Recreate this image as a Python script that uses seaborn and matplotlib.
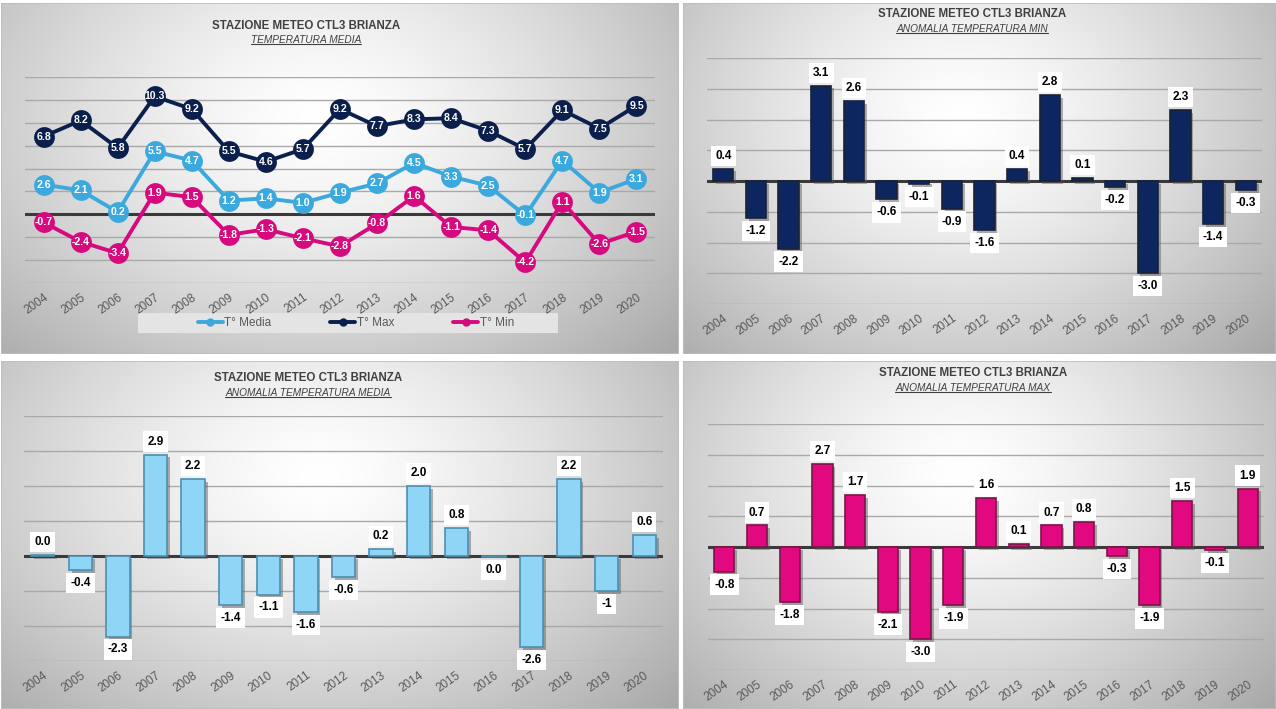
import numpy as np
import pandas as pd
import seaborn as sns
import matplotlib.pyplot as plt
import matplotlib.patheffects as pe
from matplotlib.lines import Line2D
from matplotlib.patches import Rectangle

sns.set_style('white')
plt.rcParams['font.family'] = ['Liberation Sans Narrow', 'Liberation Sans', 'DejaVu Sans']

anni = [str(a) for a in range(2004, 2021)]

t_media = [2.6, 2.1, 0.2, 5.5, 4.7, 1.2, 1.4, 1.0, 1.9, 2.7, 4.5, 3.3, 2.5, -0.1, 4.7, 1.9, 3.1]
t_max = [6.8, 8.2, 5.8, 10.3, 9.2, 5.5, 4.6, 5.7, 9.2, 7.7, 8.3, 8.4, 7.3, 5.7, 9.1, 7.5, 9.5]
t_min = [-0.7, -2.4, -3.4, 1.9, 1.5, -1.8, -1.3, -2.1, -2.8, -0.8, 1.6, -1.1, -1.4, -4.2, 1.1, -2.6, -1.5]

anom_min = [0.4, -1.2, -2.2, 3.1, 2.6, -0.6, -0.1, -0.9, -1.6, 0.4, 2.8, 0.1, -0.2, -3.0, 2.3, -1.4, -0.3]
anom_media = [0.02, -0.4, -2.3, 2.9, 2.2, -1.4, -1.1, -1.6, -0.6, 0.2, 2.0, 0.8, -0.02, -2.6, 2.2, -1.0, 0.6]
anom_media_lbl = ['0.0', '-0.4', '-2.3', '2.9', '2.2', '-1.4', '-1.1', '-1.6', '-0.6', '0.2', '2.0', '0.8',
                  '0.0', '-2.6', '2.2', '-1', '0.6']
anom_max = [-0.8, 0.7, -1.8, 2.7, 1.7, -2.1, -3.0, -1.9, 1.6, 0.1, 0.7, 0.8, -0.3, -1.9, 1.5, -0.1, 1.9]

W, H = 1276, 709
C_MEDIA = '#3BA9DE'
C_MAX = '#0B1F4D'
C_MIN = '#D60A7E'
TXT = '#404040'

fig = plt.figure(figsize=(W / 100, H / 100), dpi=100)
fig.patch.set_facecolor('white')


def frac_rect(x0, y0, x1, y1):
    return [x0 / W, 1 - y1 / H, (x1 - x0) / W, (y1 - y0) / H]


def panel_bg(x0, y0, x1, y1):
    bg = fig.add_axes(frac_rect(x0, y0, x1, y1))
    bg.set_axis_off()
    yy, xx = np.mgrid[0:1:200j, 0:1:300j]
    d = np.sqrt(((xx - 0.47) / 0.62) ** 2 + ((yy - 0.33) / 0.85) ** 2)
    v = 1 - 0.28 * np.clip(d, 0, 1.3) ** 1.4
    img = np.dstack([v, v, v])
    bg.imshow(img, extent=(0, 1, 0, 1), origin='upper', aspect='auto', interpolation='bilinear')
    bg.add_patch(Rectangle((0, 0), 1, 1, transform=bg.transAxes, fill=False,
                           edgecolor='#bdbdbd', lw=1.2))
    bg.set_xlim(0, 1)
    bg.set_ylim(0, 1)
    return bg


titles = []


def titoli(cx, ty, sy, sub):
    fig.text(cx / W, 1 - ty / H, 'STAZIONE METEO CTL3 BRIANZA', ha='center', va='center',
             fontsize=8.3, fontweight='bold', color=TXT)
    t = fig.text(cx / W, 1 - sy / H, sub, ha='center', va='center', fontsize=7.3,
                 fontstyle='italic', color=TXT)
    titles.append(t)


def style_axes(ax, lo, hi, step):
    ax.set_facecolor('none')
    for s in ax.spines.values():
        s.set_visible(False)
    ax.set_ylim(lo, hi)
    ax.set_yticks(np.arange(lo, hi + 0.01, step))
    ax.set_yticklabels([])
    ax.grid(axis='y', color='#a9a9a9', lw=1)
    ax.grid(axis='x', visible=False)
    ax.axhline(0, color='#3a3a3a', lw=2.2, zorder=2)
    ax.set_xlim(-0.5, 16.5)
    ax.set_xlabel('')
    ax.set_ylabel('')
    ax.tick_params(axis='both', length=0)
    ax.tick_params(axis='x', pad=6)
    for lab in ax.get_xticklabels():
        lab.set_rotation(35)
        lab.set_ha('right')
        lab.set_rotation_mode('anchor')
        lab.set_fontsize(8.5)
        lab.set_color('#595959')


def bar_panel(rect, vals, labels, color, edge, lo, hi):
    ax = fig.add_axes(rect)
    sns.barplot(x=anni, y=vals, color=color, width=0.62, saturation=1, ax=ax,
                edgecolor=edge, linewidth=1.2, zorder=3)
    style_axes(ax, lo, hi, 1)
    for p in ax.patches:
        p.set_path_effects([pe.SimplePatchShadow(offset=(2, -2), shadow_rgbFace='#555555', alpha=0.45),
                            pe.Normal()])
    ax.bar_label(ax.containers[0], labels=labels, padding=5, fontsize=8.5, fontweight='bold',
                 color='black', bbox=dict(facecolor='white', edgecolor='none', pad=3), zorder=5)
    return ax


# --- pannello 1: temperature medie
bg1 = panel_bg(1, 3, 679, 354)
ax1 = fig.add_axes(frac_rect(25, 77, 655, 283))
df = pd.DataFrame({'anno': anni * 3,
                   'temp': t_media + t_max + t_min,
                   'serie': ['T° Media'] * 17 + ['T° Max'] * 17 + ['T° Min'] * 17})
sns.lineplot(data=df, x='anno', y='temp', hue='serie', sort=False,
             palette={'T° Media': C_MEDIA, 'T° Max': C_MAX, 'T° Min': C_MIN},
             marker='o', markersize=15, markeredgewidth=0, linewidth=2.8, legend=False, ax=ax1, zorder=3)
style_axes(ax1, -6, 12, 2)
for serie in (t_media, t_max, t_min):
    for i, v in enumerate(serie):
        ax1.text(i, v, f'{v:.1f}', ha='center', va='center', color='white', fontsize=7.6,
                 fontweight='bold', zorder=6)
# fondo grigio della legenda
bg1.add_patch(Rectangle(((138 - 1) / 678, (354 - 333) / 351), 420 / 678, 20 / 351,
                        facecolor='#e4e4e4', edgecolor='none'))
handles = [Line2D([], [], color=c, marker='o', markersize=5, lw=2.8) for c in (C_MEDIA, C_MAX, C_MIN)]
fig.legend(handles, ['T° Media', 'T° Max', 'T° Min'], loc='center', ncol=3,
           bbox_to_anchor=(356 / W, 1 - 323 / H), frameon=False,
           fontsize=8.5, handlelength=2.1, handletextpad=0.15, columnspacing=5.0, labelcolor='#595959')
titoli(306, 26, 40, 'TEMPERATURA MEDIA')

# --- pannello 2: anomalia minime
panel_bg(683, 3, 1276, 354)
bar_panel(frac_rect(707, 58, 1262, 304), anom_min, [f'{v:.1f}' for v in anom_min],
          '#0D2660', '#1a2236', -4, 4)
titoli(972, 14, 29, 'ANOMALIA TEMPERATURA MIN')

# --- pannello 3: anomalia medie
panel_bg(1, 361, 679, 709)
bar_panel(frac_rect(24, 416, 663, 661), anom_media, anom_media_lbl,
          '#8ED5F6', '#4f8fb0', -3, 4)
titoli(308, 378, 393, 'ANOMALIA TEMPERATURA MEDIA')

# --- pannello 4: anomalia massime
panel_bg(683, 361, 1276, 709)
bar_panel(frac_rect(708, 424, 1264, 670), anom_max, [f'{v:.1f}' for v in anom_max],
          '#E2087F', '#7a1648', -4, 4)
titoli(973, 373, 388, 'ANOMALIA TEMPERATURA MAX')

# sottolineatura dei sottotitoli
fig.canvas.draw()
inv = fig.transFigure.inverted()
for t in titles:
    bb = t.get_window_extent().transformed(inv)
    fig.add_artist(Line2D([bb.x0, bb.x1], [bb.y0 + 0.001, bb.y0 + 0.001], color=TXT, lw=0.8,
                          transform=fig.transFigure))

fig.savefig('out.png', dpi=100)
